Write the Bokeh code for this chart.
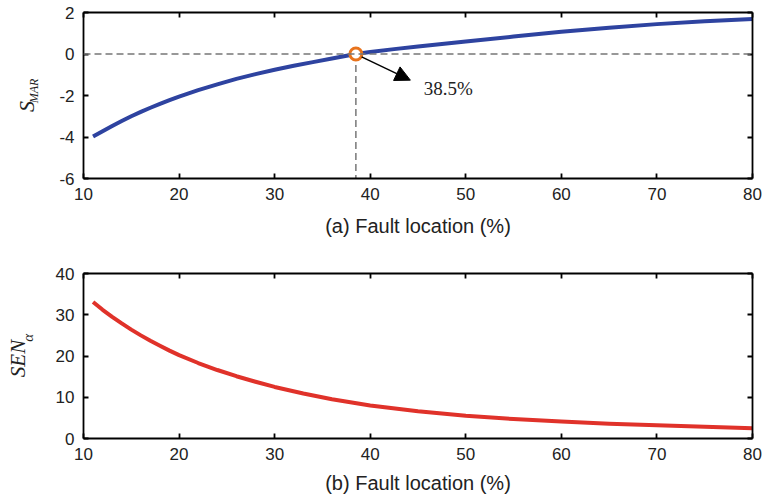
import math
from bokeh.plotting import figure
from bokeh.layouts import column, row
from bokeh.models import Range1d, LinearAxis, Label, Arrow, NormalHead, Span, FixedTicker
from bokeh.embed import file_html
from bokeh.resources import INLINE

# ---- data ----
x_ticks = [10, 20, 30, 40, 50, 60, 70, 80]
ya_ticks = [-6, -4, -2, 0, 2]
yb_ticks = [0, 10, 20, 30, 40]

loc_a = [11, 12, 13, 14, 15, 16, 17, 18, 19, 20, 22, 24, 26, 28, 30, 32, 34, 36,
         38.5, 40, 42.5, 45, 50, 55, 60, 65, 70, 75, 80]
s_mar = [-3.98, -3.72, -3.47, -3.23, -3.0, -2.79, -2.59, -2.40, -2.22, -2.05,
         -1.74, -1.46, -1.20, -0.97, -0.76, -0.57, -0.39, -0.22,
         0.0, 0.10, 0.235, 0.36, 0.60, 0.84, 1.07, 1.27, 1.44, 1.58, 1.69]

loc_b = [11, 12, 13, 14, 15, 16, 17, 18, 19, 20, 22, 24, 26, 28, 30, 33, 36, 40,
         45, 50, 55, 60, 65, 70, 75, 80]
sen_a = [33.1, 31.2, 29.5, 27.9, 26.4, 25.0, 23.7, 22.5, 21.3, 20.2, 18.3, 16.6,
         15.1, 13.75, 12.5, 10.9, 9.5, 8.0, 6.6, 5.5, 4.7, 4.1, 3.6, 3.2, 2.85, 2.5]

cross_x = 38.5
cross_y = 0.0

SANS = "Liberation Sans"
SERIF = "Liberation Serif"
LW = 40      # width of the y-label strip
PW = 726     # width of each plot


def style(p, yticks, title, title_standoff):
    p.grid.visible = False
    p.outline_line_color = None
    p.xaxis.ticker = FixedTicker(ticks=x_ticks)
    p.yaxis.ticker = FixedTicker(ticks=yticks)
    p.xaxis.major_label_overrides = {t: str(t) for t in x_ticks}
    p.yaxis.major_label_overrides = {t: str(t) for t in yticks}
    for ax in p.xaxis + p.yaxis:
        ax.major_tick_in = 5
        ax.major_tick_out = 0
        ax.minor_tick_line_color = None
        ax.axis_line_width = 1.8
        ax.major_tick_line_width = 1.8
        ax.major_label_text_font = SANS
        ax.major_label_text_font_size = "17px"
        ax.major_label_text_color = "#222222"
    p.xaxis.major_label_standoff = 9
    p.yaxis.major_label_standoff = 9
    p.xaxis.axis_label = title
    p.xaxis.axis_label_text_font = SANS
    p.xaxis.axis_label_text_font_style = "normal"
    p.xaxis.axis_label_text_font_size = "20px"
    p.xaxis.axis_label_text_color = "#222222"
    p.xaxis.axis_label_standoff = title_standoff
    for side, ticks in (("above", x_ticks), ("right", yticks)):
        ax = LinearAxis(ticker=FixedTicker(ticks=ticks), major_label_text_font_size="0px",
                        major_label_text_color=None, major_tick_in=5, major_tick_out=0,
                        minor_tick_line_color=None, axis_line_width=1.8,
                        major_tick_line_width=1.8, major_label_standoff=0)
        p.add_layout(ax, side)


def label_strip(height, yr, top, bottom):
    f = figure(width=LW, height=height, output_backend="svg", toolbar_location=None,
               x_range=Range1d(0, LW), y_range=yr, x_axis_type=None, y_axis_type=None,
               min_border_left=0, min_border_right=0, min_border_top=top,
               min_border_bottom=bottom)
    f.outline_line_color = None
    return f


# ---- top figure ----
H1, T1, B1 = 250, 12, 72
p1 = figure(width=PW, height=H1, output_backend="svg", toolbar_location=None,
            x_range=Range1d(10, 80), y_range=Range1d(-6, 2),
            min_border_left=83 - LW, min_border_right=14, min_border_top=T1, min_border_bottom=B1)
style(p1, ya_ticks, "(a) Fault location (%)", 12)

p1.add_layout(Span(location=cross_y, dimension="width", line_color="#777777",
                   line_width=1.5, line_dash="7 4"))
p1.segment(x0=[cross_x], y0=[cross_y], x1=[cross_x], y1=[ya_ticks[0]],
           line_color="#777777", line_width=1.5, line_dash="7 4")
p1.line(loc_a, s_mar, line_color="#2E43A0", line_width=4, line_join="round")
p1.scatter([cross_x], [cross_y], marker="circle", size=12, fill_color="white",
           line_color="#E8731C", line_width=3)
p1.add_layout(Arrow(end=NormalHead(size=15, fill_color="black", line_color="black"),
                    x_start=39.1, y_start=-0.14, x_end=44.2, y_end=-1.26,
                    line_color="black", line_width=1.5))
p1.add_layout(Label(x=45.6, y=-1.64, text=f"{cross_x}%", text_font="Liberation Serif",
                    text_font_size="19px", text_baseline="middle", text_align="left",
                    text_color="#222222"))

l1 = label_strip(H1, Range1d(-6, 2), T1, B1)
l1.add_layout(Label(x=25.5, y=-2.53, text="S", angle=math.pi / 2,
                    text_font=SERIF, text_font_style="italic", text_font_size="22px",
                    text_align="center", text_baseline="middle", text_color="#222222"))
l1.add_layout(Label(x=33.5, y=-1.78, text="MAR", angle=math.pi / 2,
                    text_font=SERIF, text_font_style="italic", text_font_size="12px",
                    text_align="center", text_baseline="middle", text_color="#222222"))

# ---- bottom figure ----
H2, T2, B2 = 249, 23, 61
p2 = figure(width=PW, height=H2, output_backend="svg", toolbar_location=None,
            x_range=Range1d(10, 80), y_range=Range1d(0, 40),
            min_border_left=83 - LW, min_border_right=14, min_border_top=T2, min_border_bottom=B2)
style(p2, yb_ticks, "(b) Fault location (%)", 9)
p2.line(loc_b, sen_a, line_color="#E0322A", line_width=4, line_join="round")

l2 = label_strip(H2, Range1d(0, 40), T2, B2)
l2.add_layout(Label(x=17.5, y=19.4, text="SEN", angle=math.pi / 2,
                    text_font=SERIF, text_font_style="italic", text_font_size="21px",
                    text_align="center", text_baseline="middle", text_color="#222222"))
l2.add_layout(Label(x=27.5, y=24.4, text="α", angle=math.pi / 2,
                    text_font=SERIF, text_font_style="italic", text_font_size="15px",
                    text_align="center", text_baseline="middle", text_color="#222222"))

layout = column(row(l1, p1, spacing=0), row(l2, p2, spacing=0), spacing=0)
open("out.html", "w").write(file_html(layout, INLINE))
